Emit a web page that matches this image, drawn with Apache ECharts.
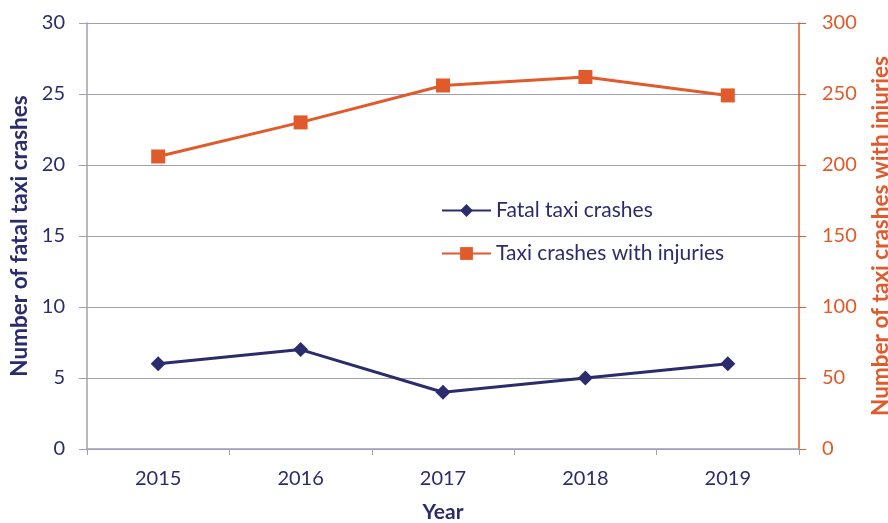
<!DOCTYPE html>
<html>
<head>
<meta charset="utf-8">
<script src="https://cdn.jsdelivr.net/npm/echarts@6/dist/echarts.min.js"></script>
<style>
  html, body { margin: 0; padding: 0; background: #fff; }
  #chart { width: 888px; height: 523px; }
</style>
</head>
<body>
<div id="chart"></div>
<script>
  var years = ['2015', '2016', '2017', '2018', '2019']
  var fatalCrashes = [6, 7, 4, 5, 6]
  var injuryCrashes = [206, 230, 256, 262, 249]

  var NAVY = '#2b2c6b'
  var ORANGE = '#e05a2b'
  var GRID = '#a09fb6'
  var FONT = 'Lato, "Open Sans", sans-serif'

  var myChart = echarts.init(document.getElementById('chart'))

  var option = {
    textStyle: { fontFamily: FONT },
    animation: false,
    grid: { left: 87, right: 89, top: 23, bottom: 74, outerBoundsMode: 'none', containLabel: false },
    legend: {
      orient: 'vertical',
      left: 436,
      top: 195,
      itemWidth: 49,
      itemHeight: 16,
      itemGap: 22,
      textStyle: { color: NAVY, fontSize: 21, fontFamily: FONT },
      data: ['Fatal taxi crashes', 'Taxi crashes with injuries']
    },
    xAxis: {
      type: 'category',
      data: years,
      boundaryGap: true,
      name: 'Year',
      nameLocation: 'middle',
      nameGap: 53,
      nameTextStyle: { color: NAVY, fontSize: 21, fontWeight: 'bold' },
      axisLine: { lineStyle: { color: GRID, width: 1.5 } },
      axisTick: { show: true, length: 6, lineStyle: { color: GRID } },
      axisLabel: { color: NAVY, fontSize: 20, margin: 20 }
    },
    yAxis: [
      {
        type: 'value',
        min: 0, max: 30, interval: 5,
        name: 'Number of fatal taxi crashes',
        nameLocation: 'middle',
        nameGap: 56,
        nameRotate: 90,
        nameTextStyle: { color: NAVY, fontSize: 22.5, fontWeight: 'bold' },
        axisLine: { show: true, lineStyle: { color: GRID, width: 1.5 } },
        axisTick: { show: true, length: 8, lineStyle: { color: GRID } },
        axisLabel: { color: NAVY, fontSize: 20, margin: 22 },
        splitLine: { show: true, lineStyle: { color: GRID, width: 1.2 } }
      },
      {
        type: 'value',
        min: 0, max: 300, interval: 50,
        position: 'right',
        name: 'Number of taxi crashes with injuries',
        nameLocation: 'middle',
        nameGap: 70,
        nameRotate: 90,
        nameTextStyle: { color: ORANGE, fontSize: 22.5, fontWeight: 'bold' },
        axisLine: { show: true, lineStyle: { color: ORANGE, width: 1.5 } },
        axisTick: { show: true, length: 7, lineStyle: { color: ORANGE } },
        axisLabel: { color: ORANGE, fontSize: 20, margin: 23 },
        splitLine: { show: false }
      }
    ],
    series: [
      {
        name: 'Fatal taxi crashes',
        type: 'line',
        yAxisIndex: 0,
        data: fatalCrashes,
        symbol: 'diamond',
        symbolSize: 15,
        itemStyle: { color: NAVY },
        lineStyle: { color: NAVY, width: 3 }
      },
      {
        name: 'Taxi crashes with injuries',
        type: 'line',
        yAxisIndex: 1,
        data: injuryCrashes,
        symbol: 'rect',
        symbolSize: 14,
        itemStyle: { color: ORANGE },
        lineStyle: { color: ORANGE, width: 3 }
      }
    ]
  }

  myChart.setOption(option)
</script>
</body>
</html>
